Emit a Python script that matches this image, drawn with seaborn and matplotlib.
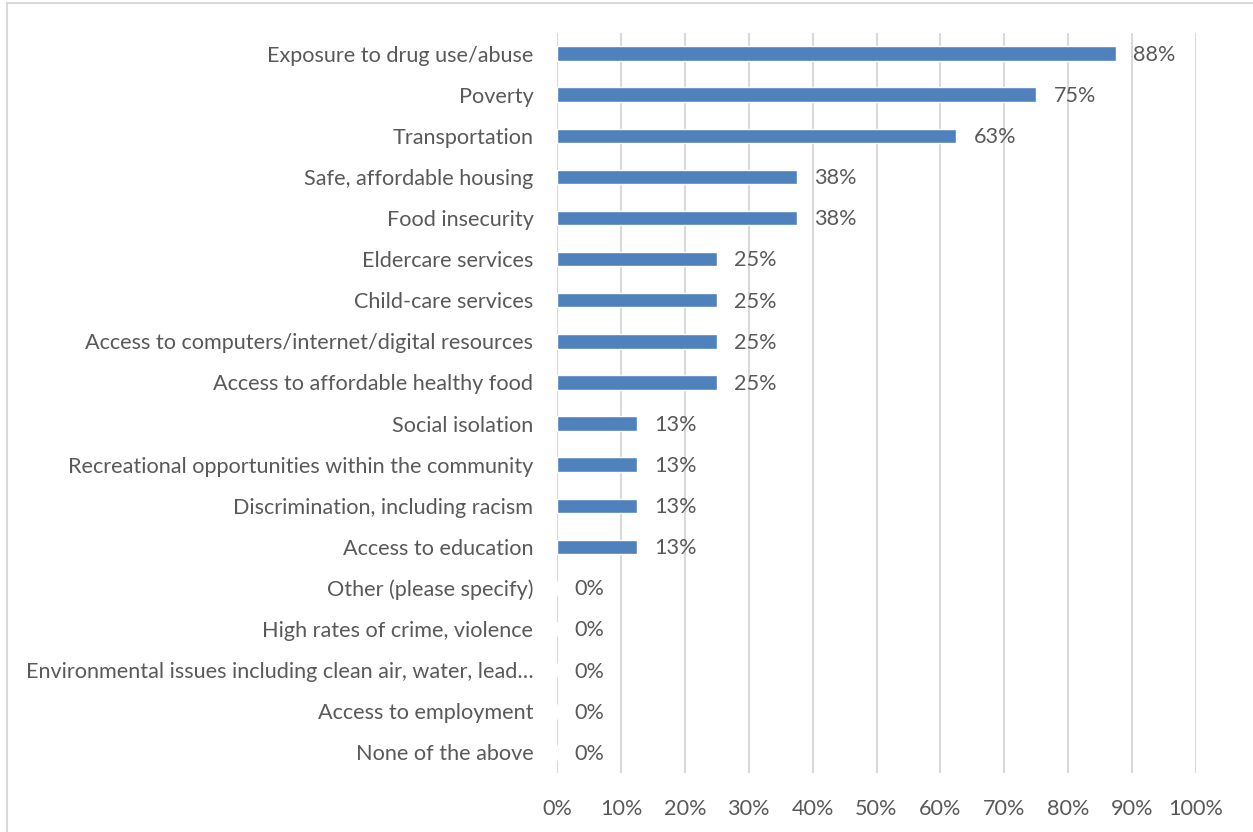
import matplotlib
matplotlib.use("Agg")
import matplotlib.pyplot as plt
import seaborn as sns
import pandas as pd
from matplotlib.patches import Rectangle
from matplotlib.ticker import PercentFormatter

categories = [
    "Exposure to drug use/abuse",
    "Poverty",
    "Transportation",
    "Safe, affordable housing",
    "Food insecurity",
    "Eldercare services",
    "Child-care services",
    "Access to computers/internet/digital resources",
    "Access to affordable healthy food",
    "Social isolation",
    "Recreational opportunities within the community",
    "Discrimination, including racism",
    "Access to education",
    "Other (please specify)",
    "High rates of crime, violence",
    "Environmental issues including clean air, water, lead\u2026",
    "Access to employment",
    "None of the above",
]
values = [0.875, 0.75, 0.625, 0.375, 0.375, 0.25, 0.25, 0.25, 0.25,
          0.125, 0.125, 0.125, 0.125, 0.0, 0.0, 0.0, 0.0, 0.0]
value_labels = ["88%", "75%", "63%", "38%", "38%", "25%", "25%", "25%", "25%",
                "13%", "13%", "13%", "13%", "0%", "0%", "0%", "0%", "0%"]
x_ticks = [0, 0.1, 0.2, 0.3, 0.4, 0.5, 0.6, 0.7, 0.8, 0.9, 1.0]

df = pd.DataFrame({"category": categories, "value": values})

sns.set_theme(style="white")
plt.rcParams["font.family"] = ["Lato", "DejaVu Sans"]
text_color = "#595959"
grid_color = "#d9d9d9"
fs = 15.6

fig = plt.figure(figsize=(12.53, 8.32), dpi=100)
ax = fig.add_axes([557 / 1253, 59 / 832, 639 / 1253, 740 / 832])

sns.barplot(data=df, y="category", x="value", orient="h", color="#4f81bd",
            saturation=1, width=0.35, ax=ax, zorder=3)

ax.set_xlim(0, 1.0)
ax.set_ylim(len(categories) - 0.5, -0.5)
ax.set_xticks(x_ticks)
ax.xaxis.set_major_formatter(PercentFormatter(1.0, decimals=0))
ax.grid(axis="x", color=grid_color, linewidth=1.5, zorder=0)
ax.grid(axis="y", visible=False)
for s in ax.spines.values():
    s.set_visible(False)
ax.set_xlabel("")
ax.set_ylabel("")
ax.tick_params(axis="both", length=0, colors=text_color, labelsize=fs)
ax.tick_params(axis="y", pad=17)
ax.tick_params(axis="x", pad=19)

for i, (v, lab) in enumerate(zip(values, value_labels)):
    ax.annotate(lab, xy=(v, i), xytext=(12.5, -1), textcoords="offset points",
                va="center", ha="left", color=text_color, fontsize=fs)

fig.patches.append(Rectangle((7 / 1253, -0.1), 1.2, 1 - 3 / 832 + 0.1,
                             transform=fig.transFigure, fill=False,
                             edgecolor=grid_color, linewidth=1.5))

fig.savefig("out.png", dpi=100)
